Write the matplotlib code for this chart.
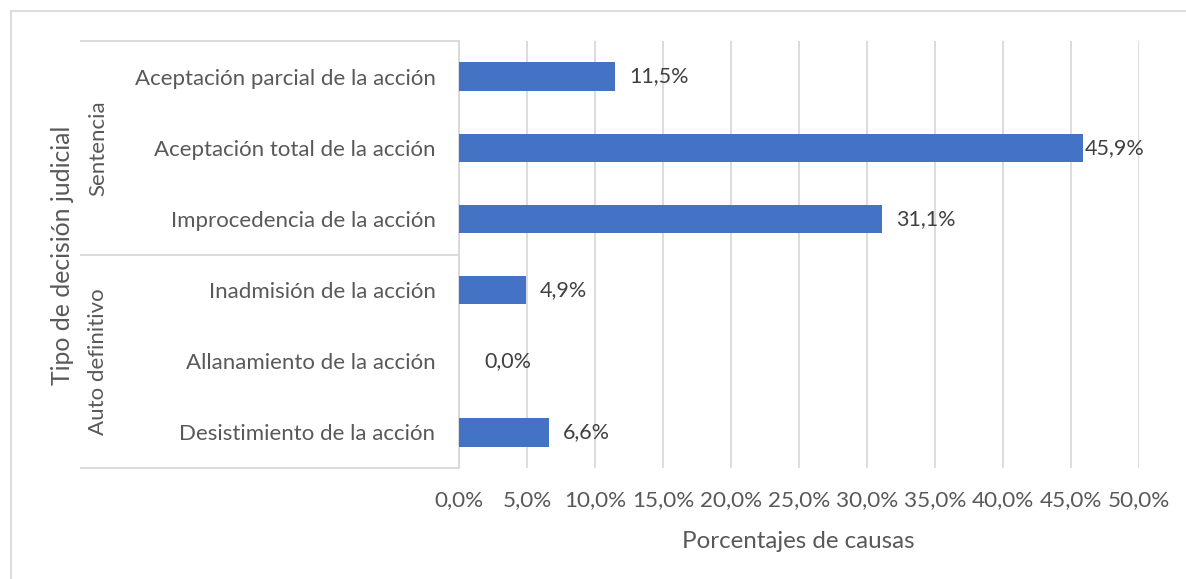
import matplotlib
matplotlib.use("Agg")
import matplotlib.pyplot as plt
from matplotlib.lines import Line2D
from matplotlib.patches import Rectangle

plt.rcParams['font.family'] = ['Lato', 'DejaVu Sans']

# ---- data ----
categories = [
    "Aceptación parcial de la acción",
    "Aceptación total de la acción",
    "Improcedencia de la acción",
    "Inadmisión de la acción",
    "Allanamiento de la acción",
    "Desistimiento de la acción",
]
values = [11.5, 45.9, 31.1, 4.9, 0.0, 6.6]
groups = ["Sentencia", "Auto definitivo"]
group_sizes = [3, 3]
x_ticks = [0, 5, 10, 15, 20, 25, 30, 35, 40, 45, 50]
x_label = "Porcentajes de causas"
y_label = "Tipo de decisión judicial"

W, H = 1186, 579
fig = plt.figure(figsize=(W / 100, H / 100), dpi=100)
fig.patch.set_facecolor("white")

left_px, right_px, top_px, bot_px = 459, 1139, 41, 468
ax = fig.add_axes([left_px / W, 1 - bot_px / H, (right_px - left_px) / W, (bot_px - top_px) / H])

text_color = "#595959"
grid_color = "#D9D9D9"
bar_color = "#4472C4"

n = len(categories)
ypos = list(range(n))
ax.barh(ypos, values, height=0.4, color=bar_color, zorder=3)
ax.set_ylim(n - 0.5, -0.5)
ax.set_xlim(x_ticks[0], x_ticks[-1])

ax.set_xticks(x_ticks)
ax.set_xticklabels([f"{t:.1f}%".replace(".", ",") for t in x_ticks], color=text_color, fontsize=16.2)
ax.tick_params(axis="x", length=0, pad=16)
ax.set_yticks(ypos)
ax.set_yticklabels(categories, color=text_color, fontsize=16)
ax.tick_params(axis="y", length=0, pad=17)

ax.grid(axis="x", color=grid_color, linewidth=1.3, zorder=0)
for s in ["top", "right", "bottom"]:
    ax.spines[s].set_visible(False)
ax.spines["left"].set_color(grid_color)
ax.spines["left"].set_linewidth(1.3)

# data labels
for y, v in zip(ypos, values):
    off = 2 if v > 45 else (25 if v == 0 else 14)
    ax.annotate(f"{v:.1f}%".replace(".", ","), xy=(v, y), xytext=(off, 0),
                textcoords="offset pixels", va="center", ha="left",
                color="#404040", fontsize=15.5, zorder=4)

# group label column lines
x0 = (81 - left_px) / (right_px - left_px)
boundaries = [-0.5]
acc = -0.5
for g in group_sizes:
    acc += g
    boundaries.append(acc)
for b in boundaries:
    ax.add_line(Line2D([x0, 0], [b, b], transform=ax.get_yaxis_transform(),
                       color=grid_color, linewidth=1.3, clip_on=False))

# group labels
gx = (98 - left_px) / (right_px - left_px)
start = -0.5
for g, size in zip(groups, group_sizes):
    mid = start + size / 2
    ax.text(gx, mid, g, transform=ax.get_yaxis_transform(), rotation=90,
            ha="center", va="center", color=text_color, fontsize=16)
    start += size

# axis titles
fig.text(63 / W, 1 - 255 / H, y_label, rotation=90, ha="center", va="center",
         color=text_color, fontsize=17.8)
fig.text(798 / W, 1 - 541 / H, x_label, ha="center", va="center",
         color=text_color, fontsize=17.4)

# outer border
fig.add_artist(Rectangle((11 / W, -0.1), 1.2, 1 - 11 / H + 0.1, transform=fig.transFigure,
                         fill=False, edgecolor="#D9D9D9", linewidth=1.3))

fig.savefig("out.png", dpi=100)
